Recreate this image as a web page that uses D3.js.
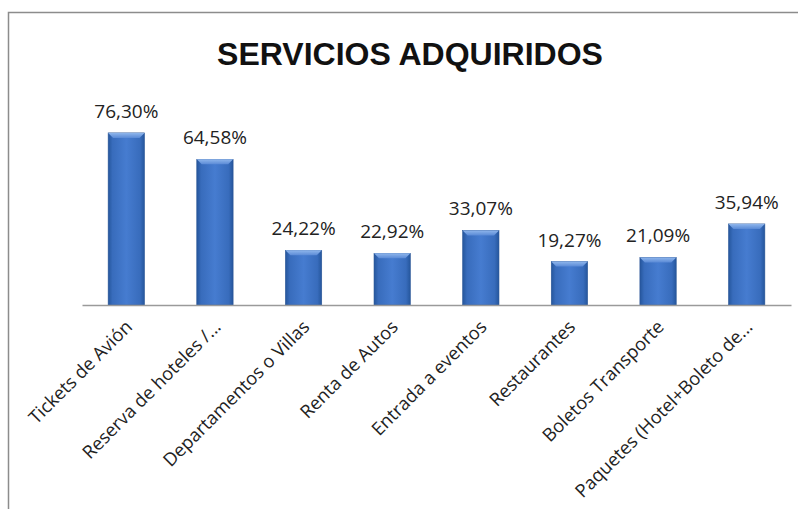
<!DOCTYPE html>
<html>
<head>
<meta charset="utf-8">
<script src="https://cdn.jsdelivr.net/npm/d3@7"></script>
<style>
  body { margin: 0; background: #fff; }
  text { font-family: "Open Sans", "Liberation Sans", sans-serif; fill: #222; }
</style>
</head>
<body>
<script>
const categories = [
    "Tickets de Avión",
    "Reserva de hoteles /...",
    "Departamentos o Villas",
    "Renta de Autos",
    "Entrada a eventos",
    "Restaurantes",
    "Boletos Transporte",
    "Paquetes (Hotel+Boleto de..."
];
const values = [76.30, 64.58, 24.22, 22.92, 33.07, 19.27, 21.09, 35.94];
const chartTitle = "SERVICIOS ADQUIRIDOS";

const W = 798, H = 509;
const margin = { top: 102, right: 7, bottom: 204, left: 82 };

const svg = d3.select("body").append("svg")
    .attr("width", W)
    .attr("height", H);

// gradients for the bars
const defs = svg.append("defs");
const grad = defs.append("linearGradient").attr("id", "barGrad")
    .attr("x1", "0%").attr("x2", "100%").attr("y1", "0%").attr("y2", "0%");
grad.append("stop").attr("offset", "0%").attr("stop-color", "#25569c");
grad.append("stop").attr("offset", "12%").attr("stop-color", "#386cbc");
grad.append("stop").attr("offset", "50%").attr("stop-color", "#467cd0");
grad.append("stop").attr("offset", "88%").attr("stop-color", "#386cbc");
grad.append("stop").attr("offset", "100%").attr("stop-color", "#25569c");

const bevel = defs.append("linearGradient").attr("id", "bevelGrad")
    .attr("x1", "0%").attr("x2", "0%").attr("y1", "0%").attr("y2", "100%");
bevel.append("stop").attr("offset", "0%").attr("stop-color", "#8fb6ec");
bevel.append("stop").attr("offset", "100%").attr("stop-color", "#5a8ad6");

// chart frame (cropped at right and bottom)
svg.append("path")
    .attr("d", `M8.5,${H} L8.5,12.5 L${W},12.5`)
    .attr("fill", "none")
    .attr("stroke", "#8c8c8c")
    .attr("stroke-width", 1.5);

svg.append("text")
    .attr("x", 410)
    .attr("y", 65)
    .attr("text-anchor", "middle")
    .style("font-family", "'Liberation Sans', Arial, sans-serif")
    .style("font-weight", "bold")
    .style("font-size", "32px")
    .style("fill", "#111")
    .text(chartTitle);

const x = d3.scaleBand()
    .domain(categories)
    .range([margin.left, W - margin.right])
    .paddingInner(0.59)
    .paddingOuter(0.295);

const y = d3.scaleLinear()
    .domain([0, 90])
    .range([H - margin.bottom, margin.top]);

const bars = svg.append("g").selectAll("g")
    .data(categories)
    .enter()
    .append("g");

const bw = x.bandwidth();
const bev = 5;

bars.append("rect")
    .attr("x", d => x(d))
    .attr("y", (d, i) => y(values[i]))
    .attr("width", bw)
    .attr("height", (d, i) => y(0) - y(values[i]))
    .attr("fill", "url(#barGrad)")
    .attr("stroke", "#2a5596")
    .attr("stroke-width", 0.6);

bars.append("path")
    .attr("d", (d, i) => {
        const x0 = x(d), x1 = x(d) + bw, t = y(values[i]);
        return `M${x0},${t} L${x1},${t} L${x1 - bev},${t + bev} L${x0 + bev},${t + bev} Z`;
    })
    .attr("fill", "url(#bevelGrad)");

bars.append("text")
    .attr("x", d => x(d) + bw / 2)
    .attr("y", (d, i) => y(values[i]) - 15)
    .attr("text-anchor", "middle")
    .style("font-size", "19px")
    .text((d, i) => values[i].toFixed(2).replace(".", ",") + "%");

const xAxis = svg.append("g")
    .attr("transform", `translate(0,${y(0)})`)
    .call(d3.axisBottom(x).tickSize(0).tickSizeOuter(0));

xAxis.select(".domain")
    .attr("stroke", "#9a9a9a")
    .attr("stroke-width", 1.5);

xAxis.selectAll(".tick text")
    .attr("text-anchor", "end")
    .attr("dy", 0)
    .attr("y", 0)
    .attr("transform", "translate(7,23) rotate(-45)")
    .style("font-size", "18.3px")
    .style("font-family", "'Open Sans', sans-serif")
    .style("fill", "#222");
</script>
</body>
</html>
